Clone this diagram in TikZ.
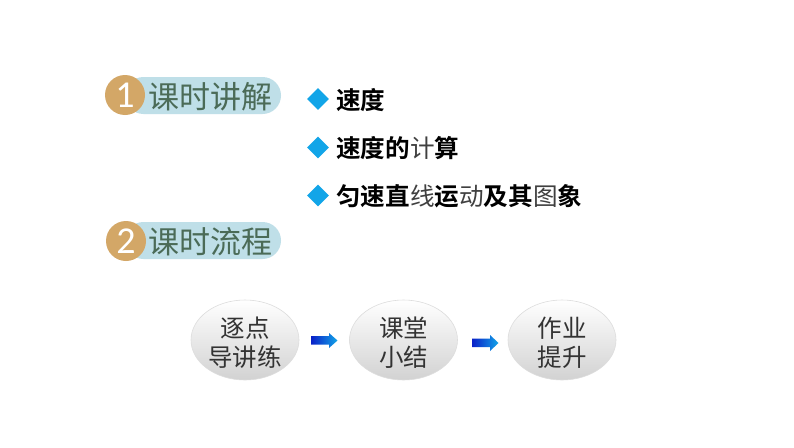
\documentclass[tikz,border=0pt]{standalone}
\usepackage{fontspec}
\newfontfamily\cjk[BoldFont={Noto Sans CJK SC Bold}]{Noto Sans CJK SC}
\newfontfamily\cjklight{Noto Sans CJK SC}
\newfontfamily\numfont{Carlito}
\usetikzlibrary{shapes.geometric}
\definecolor{pillblue}{HTML}{BFDFE8}
\definecolor{badge}{HTML}{D3A767}
\definecolor{headtext}{HTML}{4B6B57}
\definecolor{diamondblue}{HTML}{12A5E8}
\definecolor{ovaltext}{HTML}{333333}
\definecolor{ovalline}{HTML}{DDDDDD}
\definecolor{ovalbottom}{HTML}{D2D2D2}
\definecolor{arrowdark}{HTML}{0A20C8}
\definecolor{arrowlight}{HTML}{12A5E8}
\newcommand{\thin}[1]{{\mdseries\cjklight\color{black!75}#1}}
\newcommand{\ovaltwo}[2]{\raisebox{-12.5pt}[0pt][0pt]{\begin{tabular}{@{}c@{}}#1\\#2\end{tabular}}}
\tikzset{
  pill/.style={fill=pillblue,rounded corners=18.5pt},
  badgecircle/.style={circle,fill=badge,minimum size=40pt,inner sep=0pt,text=white,font=\numfont\fontsize{38}{38}\selectfont},
  headlabel/.style={anchor=west,inner sep=0pt,text=headtext,font=\cjk\fontsize{31}{32}\selectfont},
  bullet/.style={diamond,fill=diamondblue,minimum width=22pt,minimum height=22pt,inner sep=0pt,aspect=1},
  itemlabel/.style={anchor=west,inner sep=0pt,text=black,font=\cjk\bfseries\fontsize{24.6}{26}\selectfont},
  oval/.style={ellipse,draw=ovalline,line width=0.6pt,top color=white,bottom color=ovalbottom,minimum width=108pt,minimum height=80pt,inner sep=0pt,align=center,text=ovaltext,font=\cjk\fontsize{24.5}{29}\selectfont},
  flowarrow/.style={left color=arrowdark,right color=arrowlight,draw=none},
}
\begin{document}
\begin{tikzpicture}[x=1pt,y=-1pt]
\useasboundingbox (0,0) rectangle (794,447);
\fill[white] (0,0) rectangle (794,447);
\path[pill] (125,77) rectangle (281,114);
\path[pill] (125,222) rectangle (281,259);
\node[badgecircle] (b1) at (125,95) {1};
\node[badgecircle] (b2) at (126,241) {2};
\node[headlabel] (h1) at (148.5,97) {课时讲解};
\node[headlabel] (h2) at (148.5,242) {课时流程};
\node[bullet] (d1) at (318,99) {};
\node[bullet] (d2) at (318,147.5) {};
\node[bullet] (d3) at (318,195.5) {};
\node[itemlabel] (t1) at (336,100) {速度};
\node[itemlabel] (t2) at (336,148) {速度的\thin{计}算};
\node[itemlabel] (t3) at (336,196) {匀速直\thin{线}运\thin{动}及其\thin{图}象};
\node[oval] (o1) at (245,340) {\ovaltwo{逐点}{导讲练}};
\node[oval] (o2) at (403.5,340) {\ovaltwo{课堂}{小结}};
\node[oval] (o3) at (562,340) {\ovaltwo{作业}{提升}};
\path[flowarrow] (311,336) -- (329,336) -- (329,333) -- (337.5,340.5) -- (329,348) -- (329,344.5) -- (311,344.5) -- cycle;
\path[flowarrow] (472,338.5) -- (490,338.5) -- (490,335) -- (498.5,343) -- (490,351) -- (490,347) -- (472,347) -- cycle;
\end{tikzpicture}
\end{document}
